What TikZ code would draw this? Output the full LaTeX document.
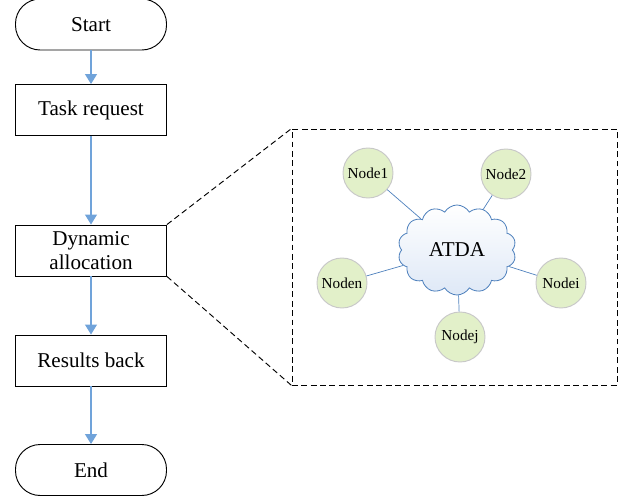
\documentclass[tikz,border=0pt]{standalone}
\usepackage{fontspec}
\setmainfont{Liberation Serif}
\usepackage{xcolor}
\usetikzlibrary{arrows.meta,shapes.symbols}

\definecolor{flowblue}{RGB}{112,163,218}
\definecolor{cloudblue}{RGB}{79,129,189}
\definecolor{cloudfill}{RGB}{222,232,246}
\definecolor{nodegreen}{RGB}{226,240,201}
\definecolor{nodegray}{RGB}{200,200,200}

\begin{document}
\begin{tikzpicture}[x=0.03cm,y=-0.03cm,
    stepbox/.style={draw=black,line width=0.8pt,minimum width=151*0.03cm,minimum height=51*0.03cm,inner sep=0pt,align=center,font=\fontsize{18}{20.5}\selectfont},
    terminal/.style={stepbox,rounded corners=0.74cm},
    flow/.style={flowblue,line width=1pt,-{Triangle[width=0.36cm,length=0.3cm]}},
    member/.style={circle,draw=nodegray,line width=0.8pt,fill=nodegreen,minimum size=50*0.03cm,inner sep=0pt,font=\fontsize{13}{15}\selectfont},
    zoomline/.style={black,line width=0.8pt,dash pattern=on 5pt off 3pt},
    link/.style={cloudblue,line width=0.6pt}]
    \useasboundingbox (0,0) rectangle (631,497);

    % flow chart
    \node[terminal] (start) at (91,24.5){Start};
    \node[stepbox] (task) at (91,110){Task request};
    \node[stepbox] (alloc) at (91,250.5){Dynamic\\allocation};
    \node[stepbox] (results) at (91,360.5){Results back};
    \node[terminal] (finish) at (91,470){End};

    \draw[flow] (start) -- (task);
    \draw[flow] (task) -- (alloc);
    \draw[flow] (alloc) -- (results);
    \draw[flow] (results) -- (finish);

    % zoomed view of the allocation step
    \node[draw,zoomline,minimum width=325*0.03cm,minimum height=256*0.03cm] (zoombox) at (454.5,257){};
    \draw[zoomline] (alloc.north east) -- (zoombox.north west);
    \draw[zoomline] (alloc.south east) -- (zoombox.south west);

    \node[cloud,cloud puffs=14,cloud puff arc=120,aspect=1.3,draw=cloudblue,line width=0.7pt,
          top color=white,bottom color=cloudfill,minimum width=118*0.03cm,minimum height=90*0.03cm,
          inner sep=0pt,font=\fontsize{18}{20}\selectfont] (atda) at (457,250){ATDA};

    \node[member] (n1) at (368,173){Node1};
    \node[member] (n2) at (506,174){Node2};
    \node[member] (nn) at (342,283){Noden};
    \node[member] (ni) at (561,283){Nodei};
    \node[member] (nj) at (460,337){Nodej};

    \draw[link] (n1) -- (atda);
    \draw[link] (n2) -- (atda);
    \draw[link] (nn) -- (atda);
    \draw[link] (ni) -- (atda);
    \draw[link] (nj) -- (atda);
\end{tikzpicture}
\end{document}
